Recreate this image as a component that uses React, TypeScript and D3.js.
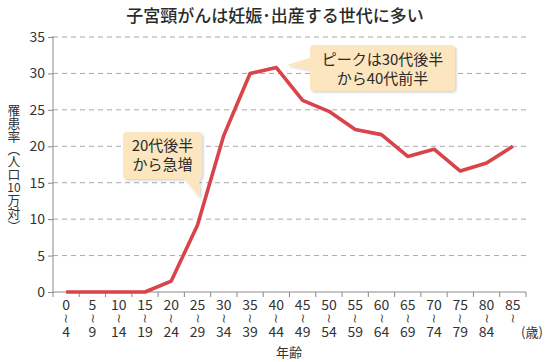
import { useEffect, useRef } from 'react';
import * as d3 from 'd3';

const title = '子宮頸がんは妊娠･出産する世代に多い';
const ageFrom = ['0', '5', '10', '15', '20', '25', '30', '35', '40', '45', '50', '55', '60', '65', '70', '75', '80', '85'];
const ageTo = ['4', '9', '14', '19', '24', '29', '34', '39', '44', '49', '54', '59', '64', '69', '74', '79', '84', ''];
const rates = [0, 0, 0, 0, 1.5, 9.2, 21.5, 30.0, 30.8, 26.3, 24.8, 22.3, 21.6, 18.6, 19.6, 16.6, 17.7, 20.0];
const yTicks = [0, 5, 10, 15, 20, 25, 30, 35];
const yTitleParts = ['罹患率（人口', '10', '万対）'];
const note1 = ['20代後半', 'から急増'];
const note2 = ['ピークは30代後半', 'から40代前半'];

const FONT = '"Noto Sans CJK JP", "Noto Sans", sans-serif';

export default function App() {
  const svgRef = useRef<SVGSVGElement>(null);

  useEffect(() => {
    if (!svgRef.current) return;
    const svg = d3.select(svgRef.current);
    svg.selectAll('*').remove();

    const left = 53, right = 526, top = 37, bottom = 292;

    const x = d3.scaleBand().domain(ageFrom).range([left, right]).padding(0);
    const y = d3.scaleLinear().domain([0, 35]).range([bottom, top]);
    const cx = (d: string) => (x(d) || 0) + x.bandwidth() / 2;

    const defs = svg.append('defs');
    const f = defs.append('filter').attr('id', 'sh').attr('x', '-10%').attr('y', '-10%').attr('width', '130%').attr('height', '140%');
    f.append('feDropShadow').attr('dx', 1.5).attr('dy', 1.5).attr('stdDeviation', 1.2).attr('flood-color', '#000').attr('flood-opacity', 0.18);

    // Title
    svg.append('text')
      .attr('x', 275).attr('y', 22)
      .attr('text-anchor', 'middle')
      .attr('font-family', FONT).attr('font-size', 17).attr('font-weight', 500)
      .attr('fill', '#2b2b2b')
      .text(title);

    // Grid lines
    svg.append('g').selectAll('line')
      .data(yTicks.filter(t => t > 0))
      .enter().append('line')
      .attr('x1', left).attr('x2', 527)
      .attr('y1', d => y(d)).attr('y2', d => y(d))
      .attr('stroke', '#a8a8a8').attr('stroke-width', 1)
      .attr('stroke-dasharray', '5,4');

    // Y axis
    const yAxis = svg.append('g')
      .attr('transform', `translate(${left},0)`)
      .call(d3.axisLeft(y).tickValues(yTicks).tickSize(5).tickPadding(3));
    yAxis.select('.domain').attr('stroke', '#8a8a8a').attr('d', `M0,${top - 1}V${bottom}`);
    yAxis.selectAll('.tick line').attr('stroke', '#8a8a8a');
    yAxis.selectAll('.tick text')
      .attr('font-family', FONT).attr('font-size', 14).attr('fill', '#333');

    // X axis
    const xAxis = svg.append('g').attr('transform', `translate(0,${bottom})`);
    xAxis.append('line').attr('x1', left).attr('x2', right).attr('stroke', '#8a8a8a');
    xAxis.selectAll('.tk')
      .data(ageFrom.concat(['end']))
      .enter().append('line')
      .attr('class', 'tk')
      .attr('x1', (d, i) => left + i * x.bandwidth())
      .attr('x2', (d, i) => left + i * x.bandwidth())
      .attr('y1', 0).attr('y2', 5)
      .attr('stroke', '#8a8a8a');

    const lbl = svg.append('g')
      .attr('font-family', FONT).attr('fill', '#333').attr('text-anchor', 'middle');
    ageFrom.forEach((a, i) => {
      const px = cx(a);
      lbl.append('text').attr('x', px).attr('y', 310).attr('font-size', 14).text(a);
      lbl.append('text')
        .attr('transform', `translate(${px},318.5) rotate(90)`)
        .attr('dy', '0.3em')
        .attr('font-family', '"DejaVu Sans", sans-serif')
        .attr('font-size', 13)
        .attr('fill', '#444')
        .text('~');
      if (ageTo[i]) lbl.append('text').attr('x', px).attr('y', 337).attr('font-size', 14).text(ageTo[i]);
    });
    lbl.append('text').attr('x', 532).attr('y', 337).attr('font-size', 13).text('(歳)');
    lbl.append('text').attr('x', 289).attr('y', 357).attr('font-size', 13).text('年齢');

    // Y axis title (vertical writing, "10" kept upright and horizontal)
    const yt = svg.append('g').attr('font-family', FONT).attr('fill', '#333');
    yt.append('text')
      .attr('x', 14).attr('y', 104)
      .style('writing-mode', 'vertical-rl')
      .attr('font-size', 12.8)
      .text(yTitleParts[0]);
    yt.append('text')
      .attr('x', 14).attr('y', 188).attr('dy', '0.35em')
      .attr('text-anchor', 'middle')
      .attr('font-size', 12)
      .text(yTitleParts[1]);
    yt.append('text')
      .attr('x', 14).attr('y', 194)
      .style('writing-mode', 'vertical-rl')
      .attr('font-size', 12.8)
      .text(yTitleParts[2]);

    // Line
    const line = d3.line<number>()
      .x((d, i) => cx(ageFrom[i]))
      .y(d => y(d));
    svg.append('path')
      .datum(rates)
      .attr('d', line)
      .attr('fill', 'none')
      .attr('stroke', '#d9434a')
      .attr('stroke-width', 3.6)
      .attr('stroke-linejoin', 'round');

    // Callouts
    const callout = (bx: number, by: number, bw: number, bh: number, ptr: [number, number][], lines: string[], ly: number) => {
      const g = svg.append('g').attr('filter', 'url(#sh)');
      g.append('rect').attr('x', bx).attr('y', by).attr('width', bw).attr('height', bh).attr('rx', 4)
        .attr('fill', '#fce6bf');
      g.append('path').attr('d', 'M' + ptr.map(p => p.join(',')).join('L') + 'Z').attr('fill', '#fce6bf');
      const t = svg.append('g').attr('font-family', FONT).attr('font-size', 15).attr('fill', '#2b2b2b').attr('text-anchor', 'middle');
      lines.forEach((s, i) => {
        t.append('text').attr('x', bx + bw / 2).attr('y', ly + i * 19).attr('dy', '0.35em').text(s);
      });
    };
    callout(123, 132, 79, 47, [[184, 178], [199, 178], [200, 198]], note1, 146);
    callout(310, 45, 145, 46, [[312, 57], [312, 70], [287, 65]], note2, 60);
  }, []);

  return (
    <svg ref={svgRef} width={550} height={362}
      style={{ position: 'absolute', left: 0, top: 0, background: '#fff' }} />
  );
}
